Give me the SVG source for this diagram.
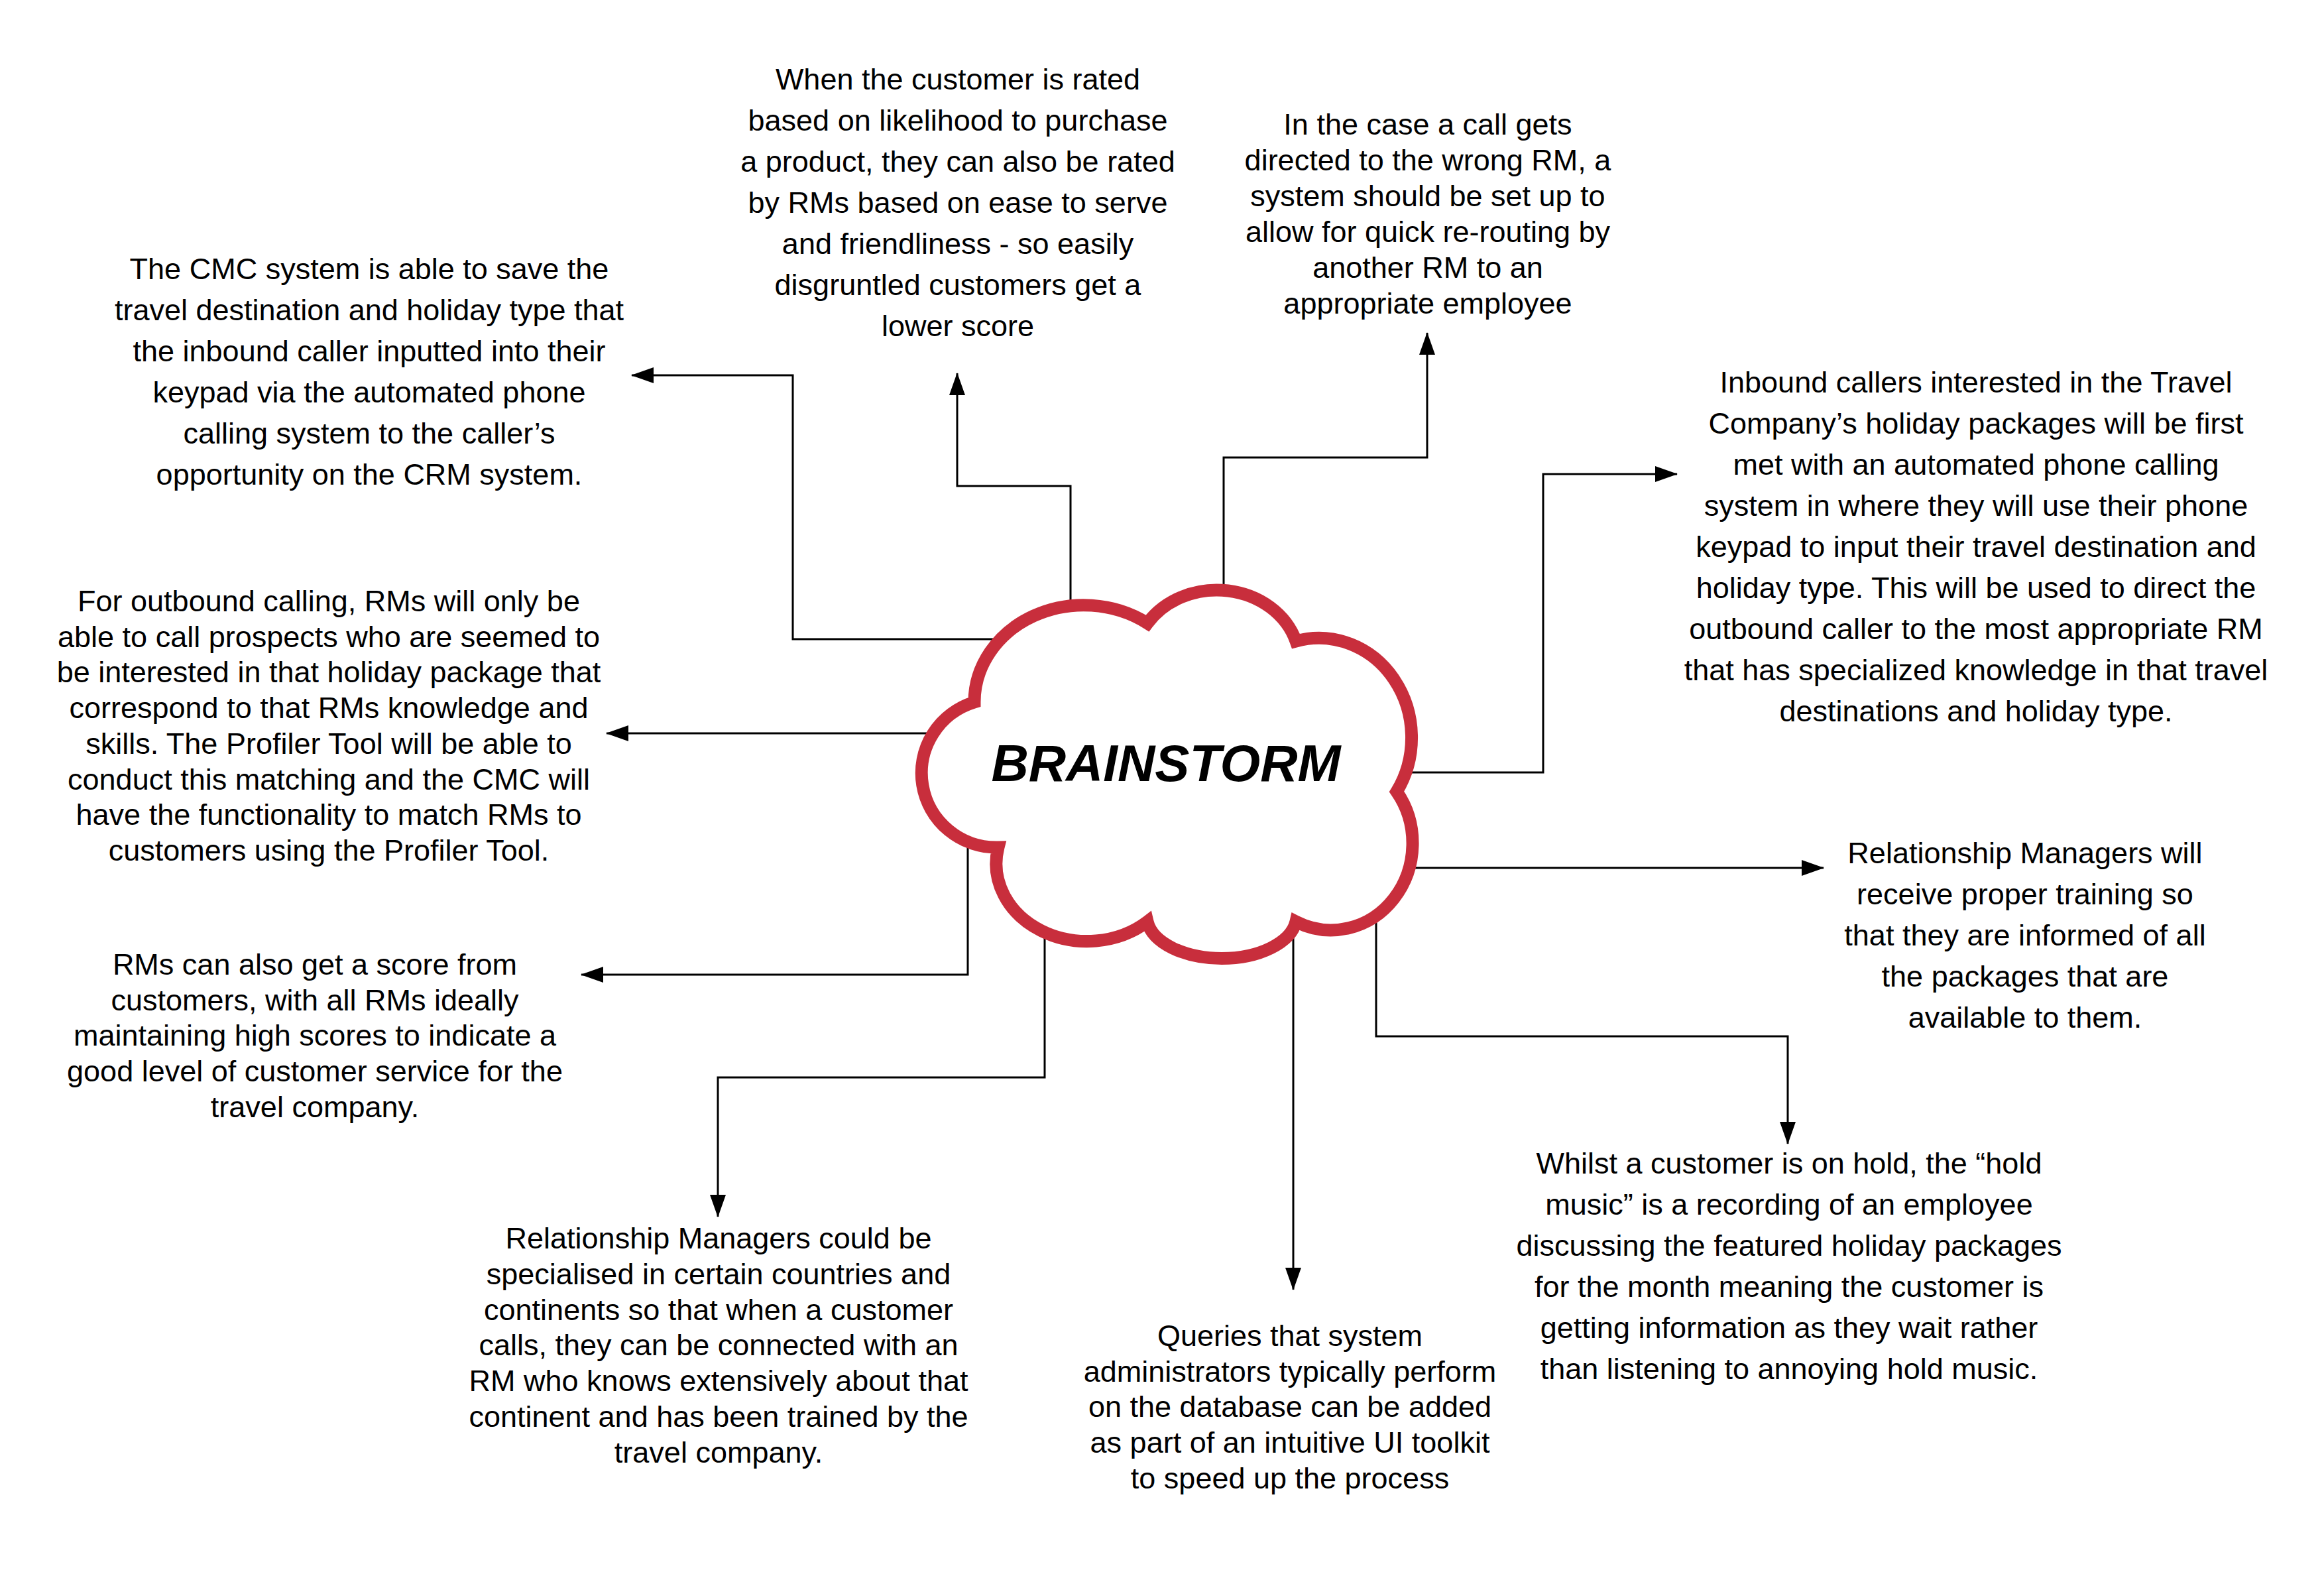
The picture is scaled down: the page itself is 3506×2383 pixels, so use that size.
<svg xmlns="http://www.w3.org/2000/svg" width="3506" height="2383" viewBox="0 0 3506 2383">
<style>
.t{font-family:"Liberation Sans",Arial,sans-serif;font-size:45px;fill:#000;text-anchor:middle}
.c{fill:none;stroke:#000;stroke-width:3;marker-end:url(#ah)}
.cloud{fill:#fff;stroke:#c82e3c;stroke-width:19;stroke-linejoin:miter}
.title{font-family:"Liberation Sans",Arial,sans-serif;font-size:78px;font-weight:bold;font-style:italic;fill:#000;text-anchor:middle}
</style>
<defs>
<marker id="ah" markerUnits="userSpaceOnUse" markerWidth="34" markerHeight="24" viewBox="0 0 34 24" refX="33" refY="12" orient="auto">
<path d="M0,0 L34,12 L0,24 Z" fill="#000"/>
</marker>
</defs>
<rect width="3506" height="2383" fill="#fff"/>
<g id="connectors">
<path class="c" d="M1530,964 H1196 V566 H953"/>
<path class="c" d="M1615,940 V733 H1444 V563"/>
<path class="c" d="M1846,920 V690 H2153 V502"/>
<path class="c" d="M2100,1165 H2328 V715 H2530"/>
<path class="c" d="M2100,1309 H2751"/>
<path class="c" d="M2076,1370 V1563 H2697 V1725"/>
<path class="c" d="M1951,1380 V1945"/>
<path class="c" d="M1576,1380 V1625 H1083 V1835"/>
<path class="c" d="M1460,1240 V1470 H877"/>
<path class="c" d="M1440,1106 H915"/>
</g>
<g id="brainstorm">
<path class="cloud" d="M1470,1059 A165,146 0 0,1 1731,940 A125,110 0 0,1 1955,967 A140,150 0 0,1 2107,1194 A123,131 0 0,1 1955,1390 A113,64 0 0,1 1731,1390 A137,117 0 0,1 1506,1278 A113,112 0 0,1 1470,1059 Z"/>
<text class="title" x="1759" y="1178">BRAINSTORM</text>
</g>
<g id="node-cmc">
<text class="t" y="421"><tspan x="557">The CMC system is able to save the</tspan><tspan x="557" dy="62">travel destination and holiday type that</tspan><tspan x="557" dy="62">the inbound caller inputted into their</tspan><tspan x="557" dy="62">keypad via the automated phone</tspan><tspan x="557" dy="62">calling system to the caller’s</tspan><tspan x="557" dy="62">opportunity on the CRM system.</tspan></text>
</g>
<g id="node-rated">
<text class="t" y="135"><tspan x="1445">When the customer is rated</tspan><tspan x="1445" dy="62">based on likelihood to purchase</tspan><tspan x="1445" dy="62">a product, they can also be rated</tspan><tspan x="1445" dy="62">by RMs based on ease to serve</tspan><tspan x="1445" dy="62">and friendliness - so easily</tspan><tspan x="1445" dy="62">disgruntled customers get a</tspan><tspan x="1445" dy="62">lower score</tspan></text>
</g>
<g id="node-rerouting">
<text class="t" y="203"><tspan x="2154">In the case a call gets</tspan><tspan x="2154" dy="54">directed to the wrong RM, a</tspan><tspan x="2154" dy="54">system should be set up to</tspan><tspan x="2154" dy="54">allow for quick re-routing by</tspan><tspan x="2154" dy="54">another RM to an</tspan><tspan x="2154" dy="54">appropriate employee</tspan></text>
</g>
<g id="node-inbound">
<text class="t" y="592"><tspan x="2981">Inbound callers interested in the Travel</tspan><tspan x="2981" dy="62">Company’s holiday packages will be first</tspan><tspan x="2981" dy="62">met with an automated phone calling</tspan><tspan x="2981" dy="62">system in where they will use their phone</tspan><tspan x="2981" dy="62">keypad to input their travel destination and</tspan><tspan x="2981" dy="62">holiday type. This will be used to direct the</tspan><tspan x="2981" dy="62">outbound caller to the most appropriate RM</tspan><tspan x="2981" dy="62">that has specialized knowledge in that travel</tspan><tspan x="2981" dy="62">destinations and holiday type.</tspan></text>
</g>
<g id="node-training">
<text class="t" y="1302"><tspan x="3055">Relationship Managers will</tspan><tspan x="3055" dy="62">receive proper training so</tspan><tspan x="3055" dy="62">that they are informed of all</tspan><tspan x="3055" dy="62">the packages that are</tspan><tspan x="3055" dy="62">available to them.</tspan></text>
</g>
<g id="node-hold">
<text class="t" y="1770"><tspan x="2699">Whilst a customer is on hold, the “hold</tspan><tspan x="2699" dy="62">music” is a recording of an employee</tspan><tspan x="2699" dy="62">discussing the featured holiday packages</tspan><tspan x="2699" dy="62">for the month meaning the customer is</tspan><tspan x="2699" dy="62">getting information as they wait rather</tspan><tspan x="2699" dy="62">than listening to annoying hold music.</tspan></text>
</g>
<g id="node-queries">
<text class="t" y="2030"><tspan x="1946">Queries that system</tspan><tspan x="1946" dy="53.7">administrators typically perform</tspan><tspan x="1946" dy="53.7">on the database can be added</tspan><tspan x="1946" dy="53.7">as part of an intuitive UI toolkit</tspan><tspan x="1946" dy="53.7">to speed up the process</tspan></text>
</g>
<g id="node-specialised">
<text class="t" y="1883"><tspan x="1084">Relationship Managers could be</tspan><tspan x="1084" dy="53.8">specialised in certain countries and</tspan><tspan x="1084" dy="53.8">continents so that when a customer</tspan><tspan x="1084" dy="53.8">calls, they can be connected with an</tspan><tspan x="1084" dy="53.8">RM who knows extensively about that</tspan><tspan x="1084" dy="53.8">continent and has been trained by the</tspan><tspan x="1084" dy="53.8">travel company.</tspan></text>
</g>
<g id="node-score">
<text class="t" y="1470"><tspan x="475">RMs can also get a score from</tspan><tspan x="475" dy="53.7">customers, with all RMs ideally</tspan><tspan x="475" dy="53.7">maintaining high scores to indicate a</tspan><tspan x="475" dy="53.7">good level of customer service for the</tspan><tspan x="475" dy="53.7">travel company.</tspan></text>
</g>
<g id="node-outbound">
<text class="t" y="922"><tspan x="496">For outbound calling, RMs will only be</tspan><tspan x="496" dy="53.7">able to call prospects who are seemed to</tspan><tspan x="496" dy="53.7">be interested in that holiday package that</tspan><tspan x="496" dy="53.7">correspond to that RMs knowledge and</tspan><tspan x="496" dy="53.7">skills. The Profiler Tool will be able to</tspan><tspan x="496" dy="53.7">conduct this matching and the CMC will</tspan><tspan x="496" dy="53.7">have the functionality to match RMs to</tspan><tspan x="496" dy="53.7">customers using the Profiler Tool.</tspan></text>
</g>
</svg>
